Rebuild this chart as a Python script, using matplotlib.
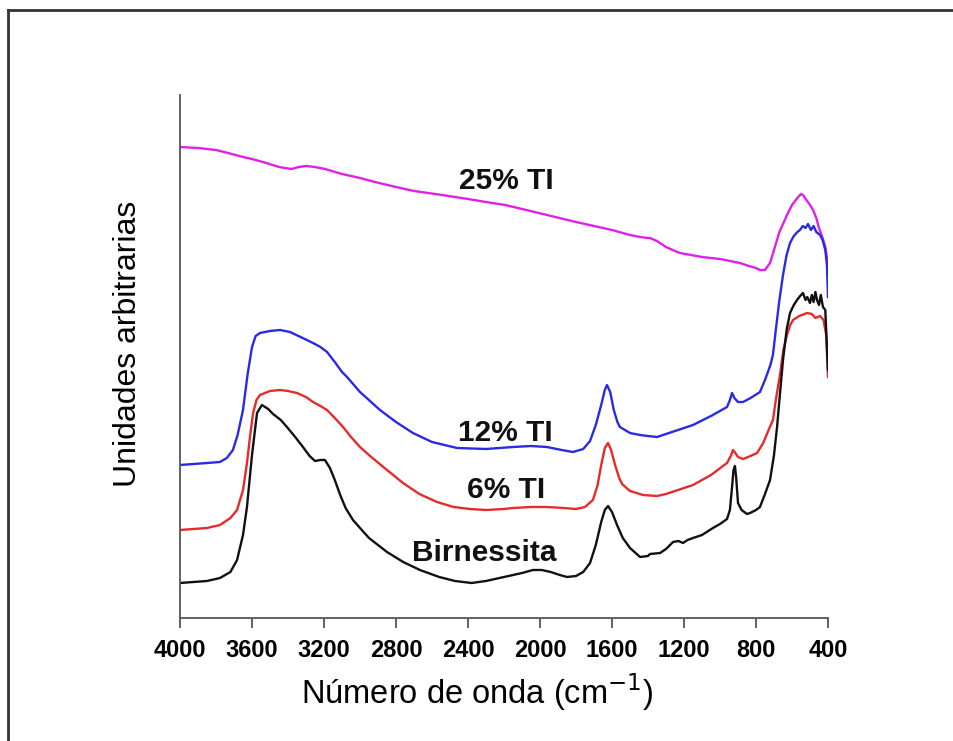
import matplotlib
matplotlib.use("Agg")
import matplotlib.pyplot as plt
from matplotlib.lines import Line2D

plt.rcParams['font.family'] = ['Liberation Sans', 'DejaVu Sans']

# ---- data (wavenumber cm^-1, arbitrary intensity) ----
wn_25 = [4000, 3900, 3800, 3733, 3650, 3600, 3520, 3450, 3417, 3380, 3340, 3300,
         3250, 3194, 3100, 3000, 2917, 2800, 2700, 2544, 2400, 2300, 2194, 2100,
         1961, 1800, 1700, 1600, 1500, 1444, 1400, 1389, 1350, 1300, 1250, 1222,
         1100, 1000, 889, 840, 800, 778, 750, 722, 700, 670, 640, 628, 600, 570,
         550, 539, 520, 500, 483, 465, 450, 430, 415, 406, 400]
y_25 = [471, 470, 468, 465, 461, 459, 455, 451, 450, 449, 451, 452,
        451, 449, 444, 440, 436, 431, 427, 423, 419, 416, 413, 409,
        403, 396, 392, 388, 383, 381, 380, 380, 377, 371, 367, 365,
        361, 359, 355, 352, 350, 348, 348, 355, 368, 386, 398, 403, 413, 420,
        424, 423, 418, 413, 408, 400, 390, 380, 371, 360, 355]

wn_12 = [4000, 3850, 3778, 3740, 3706, 3680, 3650, 3625, 3600, 3580, 3556, 3500,
         3444, 3389, 3330, 3261, 3220, 3183, 3140, 3100, 3072, 3000, 2889, 2800,
         2706, 2600, 2461, 2300, 2150, 2050, 1961, 1880, 1817, 1760, 1722, 1690,
         1660, 1640, 1628, 1610, 1590, 1570, 1556, 1500, 1444, 1400, 1350, 1300,
         1250, 1150, 1050, 961, 945, 933, 920, 900, 872, 830, 778, 750, 720, 706,
         690, 670, 650, 630, 611, 590, 570, 556, 540, 525, 511, 495, 480, 465,
         444, 430, 415, 406, 400]
y_12 = [153, 155, 156, 160, 168, 183, 208, 243, 271, 282, 285, 287,
        288, 286, 281, 275, 271, 266, 256, 246, 241, 226, 208, 196,
        185, 176, 170, 169, 171, 172, 171, 168, 166, 169, 177, 193,
        213, 228, 233, 226, 208, 196, 191, 185, 183, 182, 181, 184,
        187, 193, 202, 211, 218, 225, 220, 216, 216, 220, 226, 238, 253, 263,
        288, 318, 343, 363, 375, 382, 386, 388, 392, 390, 394, 388, 392, 386,
        383, 378, 368, 353, 321]

wn_6 = [4000, 3850, 3778, 3720, 3683, 3650, 3628, 3610, 3594, 3575, 3556, 3500,
        3444, 3400, 3350, 3300, 3261, 3220, 3183, 3140, 3094, 3050, 3000, 2944,
        2850, 2761, 2670, 2572, 2480, 2389, 2300, 2200, 2150, 2050, 1961, 1870,
        1800, 1750, 1706, 1680, 1660, 1640, 1622, 1605, 1583, 1560, 1544, 1500,
        1428, 1350, 1300, 1250, 1150, 1050, 961, 940, 928, 915, 900, 872, 830,
        794, 760, 730, 706, 690, 667, 648, 628, 610, 594, 560, 530, 517, 490,
        470, 444, 425, 410, 400]
y_6 = [88, 90, 93, 100, 108, 128, 155, 183, 205, 218, 223, 227,
       228, 227, 225, 221, 216, 212, 208, 200, 191, 181, 171, 162,
       148, 135, 124, 116, 111, 109, 108, 109, 110, 111, 111, 110,
       109, 111, 118, 133, 153, 170, 175, 168, 153, 140, 134, 127,
       123, 122, 124, 127, 133, 143, 155, 162, 168, 165, 161, 159, 162,
       165, 175, 188, 198, 218, 243, 268, 283, 293, 298, 302, 304, 305, 304,
       300, 302, 298, 283, 241]

wn_b = [4000, 3850, 3778, 3720, 3683, 3650, 3628, 3600, 3572, 3545, 3510, 3483,
        3440, 3406, 3360, 3317, 3280, 3250, 3220, 3195, 3167, 3140, 3110, 3080,
        3039, 2990, 2950, 2900, 2850, 2760, 2667, 2560, 2472, 2380, 2300, 2200,
        2100, 2039, 1990, 1940, 1890, 1850, 1800, 1760, 1722, 1690, 1660, 1640,
        1622, 1600, 1572, 1540, 1500, 1444, 1400, 1389, 1333, 1300, 1261, 1230,
        1206, 1180, 1150, 1100, 1039, 1000, 961, 945, 933, 925, 917, 910, 900,
        880, 850, 833, 800, 778, 750, 722, 700, 683, 665, 650, 630, 611, 590,
        572, 555, 539, 525, 515, 500, 490, 480, 470, 461, 450, 440, 428, 415,
        406, 400]
y_b = [35, 37, 40, 46, 58, 83, 111, 163, 205, 213, 209, 204,
       198, 191, 181, 171, 162, 157, 158, 158, 150, 138, 123, 110,
       98, 88, 80, 73, 66, 56, 48, 41, 37, 35, 37, 41,
       45, 48, 48, 46, 43, 41, 42, 46, 55, 73, 96, 108,
       112, 106, 93, 80, 70, 61, 62, 64, 65, 69, 76, 77,
       75, 78, 80, 83, 90, 94, 99, 108, 131, 148, 152, 140, 115,
       108, 104, 105, 108, 111, 124, 138, 163, 191, 228, 258, 288, 305, 313,
       318, 322, 325, 318, 321, 315, 323, 316, 326, 318, 313, 323, 311, 308,
       271, 248]

labels = ["25% TI", "12% TI", "6% TI", "Birnessita"]
label_wn = [2189, 2194, 2189, 2311]
label_y = [437, 185, 128, 65]

colors = ["#e020e8", "#2a2ae6", "#e82a2a", "#111111"]

fig = plt.figure(figsize=(9.54, 7.41), dpi=100)
ax = fig.add_axes([180/954, 1-618/741, (828-180)/954, (618-95)/741])

for wn, y, c in zip([wn_25, wn_12, wn_6, wn_b], [y_25, y_12, y_6, y_b], colors):
    ax.plot(wn, y, color=c, lw=1.7, solid_joinstyle='round')

for t, x, y in zip(labels, label_wn, label_y):
    ax.text(x, y, t, ha='center', va='center', fontsize=21.5, fontweight='bold', color='#111111')

ax.set_xlim(4000, 400)
ax.set_ylim(0, 523)
ax.set_xticks([4000, 3600, 3200, 2800, 2400, 2000, 1600, 1200, 800, 400])
ax.set_yticks([])
for lab in ax.get_xticklabels():
    lab.set_fontweight('bold')
ax.tick_params(axis='x', direction='out', length=7, width=1.2, labelsize=17, pad=8, color='#444444')
for s in ['top', 'right']:
    ax.spines[s].set_visible(False)
for s in ['left', 'bottom']:
    ax.spines[s].set_color('#555555')
    ax.spines[s].set_linewidth(1.3)

fig.text(477/954, 1-692/741, "Número de onda (cm$^{-1}$)", fontsize=23.5, ha='center', va='center')
fig.text(128/954, 1-344/741, "Unidades arbitrarias", fontsize=23, ha='center', va='center', rotation=90)

# figure frame (top and left edges visible)
fig.add_artist(Line2D([8/954, 8/954], [0, 1-10/741], transform=fig.transFigure, color='#333333', lw=2))
fig.add_artist(Line2D([8/954, 1], [1-10/741, 1-10/741], transform=fig.transFigure, color='#333333', lw=2))

fig.savefig("out.png", dpi=100)
